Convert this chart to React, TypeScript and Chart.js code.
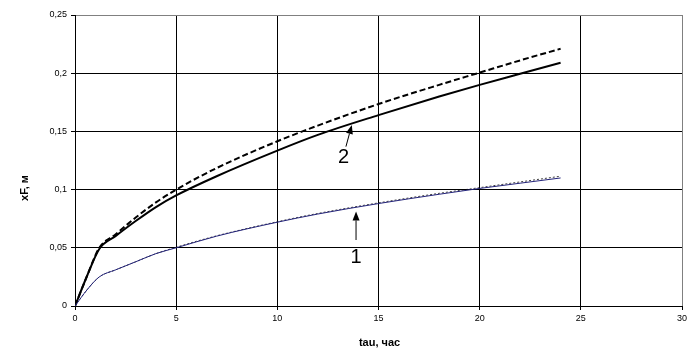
import { useEffect, useRef } from "react";
import { Chart, registerables } from "chart.js";

Chart.register(...registerables);

// hours
const tau = [0, 0.6, 1.2, 2, 3, 4, 5, 7, 10, 12, 15, 18, 20, 22, 24];
// curve 2 (solid, thick)
const curve2Solid = [0, 0.026, 0.049, 0.06, 0.073, 0.085, 0.095, 0.1115, 0.1335, 0.147, 0.164, 0.18, 0.19, 0.1995, 0.209];
// curve 2 (dashed, thick)
const curve2Dashed = [0, 0.026, 0.05, 0.0615, 0.076, 0.089, 0.1, 0.1185, 0.1415, 0.155, 0.1735, 0.19, 0.2005, 0.211, 0.221];
// curve 1 (thin, blue)
const curve1Solid = [0, 0.014, 0.025, 0.031, 0.038, 0.045, 0.05, 0.06, 0.072, 0.079, 0.088, 0.096, 0.101, 0.1055, 0.11];
// curve 1 (thin, dotted)
const curve1Dotted = [0, 0.014, 0.025, 0.031, 0.038, 0.045, 0.0505, 0.0603, 0.0724, 0.0795, 0.0886, 0.0968, 0.1017, 0.1066, 0.1115];

const xTicks = [0, 5, 10, 15, 20, 25, 30];
const yTicks = [0, 0.05, 0.1, 0.15, 0.2, 0.25];

const xTitle = "tau, час";
const yTitle = "xF, м";

// callout labels: text, text position, arrow tail, arrow tip (data coordinates)
const callouts = [
  { text: "2", tx: 13.27, ty: 0.1276, ax: 13.39, ay: 0.1369, bx: 13.68, by: 0.1555 },
  { text: "1", tx: 13.89, ty: 0.0421, ax: 13.89, ay: 0.0567, bx: 13.89, by: 0.0812 },
];

const toPts = (ys: number[]) => tau.map((x, i) => ({ x, y: ys[i] }));
const fmt = (v: number) => String(Math.round(v * 100) / 100).replace(".", ",");

export default function App() {
  const ref = useRef<HTMLCanvasElement | null>(null);

  useEffect(() => {
    const canvas = ref.current;
    if (!canvas) return;

    const overlay = {
      id: "overlay",
      afterDraw(chart: any) {
        const ctx = chart.ctx;
        const xs = chart.scales.x;
        const ys = chart.scales.y;
        const area = chart.chartArea;
        ctx.save();
        // callouts
        ctx.fillStyle = "#000";
        ctx.strokeStyle = "#000";
        ctx.lineWidth = 1;
        ctx.font = "20px 'Liberation Sans', Arial, sans-serif";
        ctx.textAlign = "center";
        ctx.textBaseline = "middle";
        for (const c of callouts) {
          ctx.fillText(c.text, xs.getPixelForValue(c.tx), ys.getPixelForValue(c.ty));
          const x1 = xs.getPixelForValue(c.ax);
          const y1 = ys.getPixelForValue(c.ay);
          const x2 = xs.getPixelForValue(c.bx);
          const y2 = ys.getPixelForValue(c.by);
          const ang = Math.atan2(y2 - y1, x2 - x1);
          const hl = 9;
          const hw = 3.5;
          const bxp = x2 - hl * Math.cos(ang);
          const byp = y2 - hl * Math.sin(ang);
          ctx.beginPath();
          ctx.moveTo(x1, y1);
          ctx.lineTo(bxp, byp);
          ctx.stroke();
          ctx.beginPath();
          ctx.moveTo(x2, y2);
          ctx.lineTo(bxp + hw * Math.sin(ang), byp - hw * Math.cos(ang));
          ctx.lineTo(bxp - hw * Math.sin(ang), byp + hw * Math.cos(ang));
          ctx.closePath();
          ctx.fill();
        }
        // axis titles
        ctx.font = "bold 11px 'Liberation Sans', Arial, sans-serif";
        ctx.fillText(xTitle, (area.left + area.right) / 2 + 1, 343);
        ctx.translate(25, 188);
        ctx.rotate(-Math.PI / 2);
        ctx.fillText(yTitle, 0, 0);
        ctx.restore();
      },
    };

    const chart = new Chart(canvas, {
      type: "line",
      data: {
        datasets: [
          {
            label: "1",
            data: toPts(curve1Solid),
            borderColor: "#23237a",
            borderWidth: 1,
            pointRadius: 0,
            cubicInterpolationMode: "monotone",
          },
          {
            label: "1 dotted",
            data: toPts(curve1Dotted),
            borderColor: "rgba(0,0,0,0.75)",
            borderWidth: 1,
            borderDash: [2, 2],
            pointRadius: 0,
            cubicInterpolationMode: "monotone",
          },
          {
            label: "2 dashed",
            data: toPts(curve2Dashed),
            borderColor: "#000",
            borderWidth: 2,
            borderDash: [6, 3],
            pointRadius: 0,
            cubicInterpolationMode: "monotone",
          },
          {
            label: "2",
            data: toPts(curve2Solid),
            borderColor: "#000",
            borderWidth: 2,
            pointRadius: 0,
            cubicInterpolationMode: "monotone",
          },
        ],
      } as any,
      options: {
        responsive: false,
        animation: false,
        layout: { padding: { top: 15, right: 13, left: 0, bottom: 0 } },
        plugins: {
          legend: { display: false },
          tooltip: { enabled: false },
        },
        scales: {
          x: {
            type: "linear",
            min: 0,
            max: 30,
            afterBuildTicks: (s: any) => {
              s.ticks = xTicks.map((v) => ({ value: v }));
            },
            afterFit: (s: any) => {
              s.height = 46;
            },
            grid: {
              color: (c: any) => (c.tick && c.tick.value === 30 ? "#808080" : "#000"),
              tickColor: "#000",
              tickLength: 4,
              lineWidth: 1,
            },
            border: { color: "#000", width: 1 },
            ticks: {
              color: "#000",
              font: { family: "'Liberation Sans', Arial, sans-serif", size: 9 },
              padding: 3,
              maxRotation: 0,
              callback: (v: any) => String(v),
            },
          },
          y: {
            type: "linear",
            min: 0,
            max: 0.25,
            afterBuildTicks: (s: any) => {
              s.ticks = yTicks.map((v) => ({ value: v }));
            },
            afterFit: (s: any) => {
              s.width = 75;
            },
            grid: {
              color: (c: any) => (c.tick && Math.abs(c.tick.value - 0.25) < 1e-9 ? "#808080" : "#000"),
              tickColor: "#000",
              tickLength: 4,
              lineWidth: 1,
            },
            border: { color: "#000", width: 1 },
            ticks: {
              color: "#000",
              font: { family: "'Liberation Sans', Arial, sans-serif", size: 9 },
              padding: 4,
              callback: (v: any) => fmt(Number(v)),
            },
          },
        },
      } as any,
      plugins: [overlay],
    });

    return () => chart.destroy();
  }, []);

  return (
    <div style={{ position: "absolute", left: 0, top: 0, width: 695, height: 352, background: "#fff" }}>
      <canvas ref={ref} width={695} height={352} style={{ width: 695, height: 352, display: "block" }} />
    </div>
  );
}
